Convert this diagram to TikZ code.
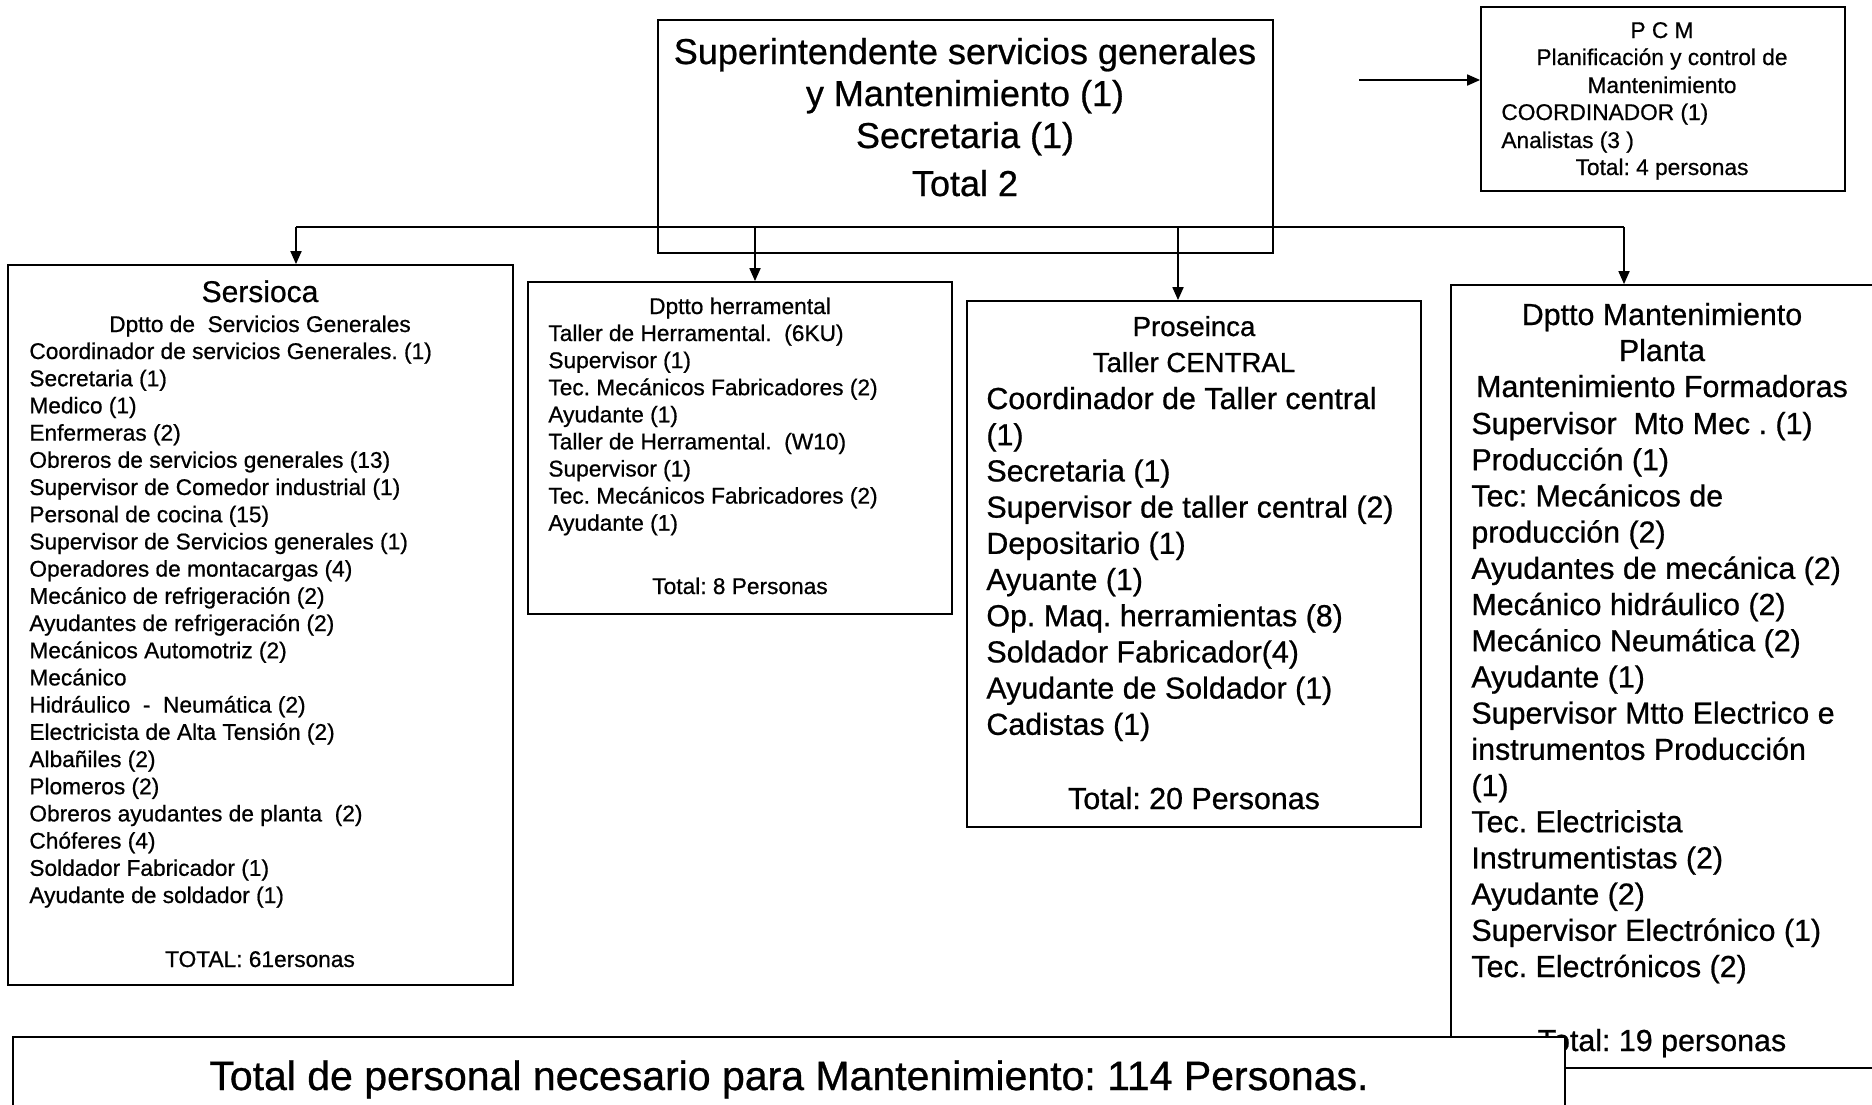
\documentclass[tikz,border=0pt]{standalone}
\usepackage{fontspec}
\setmainfont{Liberation Sans}[FakeBold=0.7]
\usetikzlibrary{arrows.meta,fit}

% type sizes (1 unit of the picture = 0.5pt)
\newcommand\fsTop{\fontsize{18pt}{21pt}\selectfont}
\newcommand\fsSm{\fontsize{11.35pt}{13.6pt}\selectfont}
\newcommand\fsMed{\fontsize{15.2pt}{18.1pt}\selectfont}
\newcommand\fsHead{\fontsize{15pt}{18pt}\selectfont}
\newcommand\fsPro{\fontsize{13.8pt}{18pt}\selectfont}
\newcommand\fsBig{\fontsize{20.5pt}{24pt}\selectfont}

\tikzset{
  box/.style={draw, line width=0.9pt, inner sep=0pt},
  link/.style={line width=0.9pt},
  arr/.style={line width=0.9pt, -{Triangle[length=6.5pt,width=5.5pt]}},
  ln/.style={anchor=base west, inner sep=0pt},
  lc/.style={anchor=base, inner sep=0pt},
}

\begin{document}
\frenchspacing
\begin{tikzpicture}[x=0.5pt,y=-0.5pt]
\clip (0,0) rectangle (1872,1104);
\fill[white] (0,0) rectangle (1872,1104);

% ---------- head of the organisation ----------
\node[box, fit={(658,20) (1273,253)}] (sup) {};
\node[lc, font=\fsTop] (sup1) at (965,64)  {Superintendente servicios generales};
\node[lc, font=\fsTop] (sup2) at (965,106) {y Mantenimiento (1)};
\node[lc, font=\fsTop] (sup3) at (965,148) {Secretaria (1)};
\node[lc, font=\fsTop] (sup4) at (965,196) {Total 2};

% ---------- planning and control ----------
\node[box, fit={(1481,7) (1845,191)}] (pcm) {};
\node[lc, font=\fsSm] (pcm1) at (1662,38)  {P C M};
\node[lc, font=\fsSm] (pcm2) at (1662,65)  {Planificación y control de};
\node[lc, font=\fsSm] (pcm3) at (1662,93)  {Mantenimiento};
\node[ln, font=\fsSm] (pcm4) at (1501,120) {COORDINADOR (1)};
\node[ln, font=\fsSm] (pcm5) at (1501,148) {Analistas (3 )};
\node[lc, font=\fsSm] (pcm6) at (1662,175) {Total: 4 personas};

% ---------- Sersioca ----------
\node[box, fit={(8,265) (513,985)}] (sers) {};
\node[lc, font=\fsHead] (sersT) at (260,302) {Sersioca};
\node[lc, font=\fsSm] (sersD) at (260,332) {Dptto de\ \ Servicios Generales};
\foreach \t [count=\i] in {
  {Coordinador de servicios Generales. (1)},
  {Secretaria (1)},
  {Medico (1)},
  {Enfermeras (2)},
  {Obreros de servicios generales (13)},
  {Supervisor de Comedor industrial (1)},
  {Personal de cocina (15)},
  {Supervisor de Servicios generales (1)},
  {Operadores de montacargas (4)},
  {Mecánico de refrigeración (2)},
  {Ayudantes de refrigeración (2)},
  {Mecánicos Automotriz (2)},
  {Mecánico},
  {Hidráulico\ \ -\ \ Neumática (2)},
  {Electricista de Alta Tensión (2)},
  {Albañiles (2)},
  {Plomeros (2)},
  {Obreros ayudantes de planta\ \ (2)},
  {Chóferes (4)},
  {Soldador Fabricador (1)},
  {Ayudante de soldador (1)}}
  \node[ln, font=\fsSm] (sers\i) at (29,{359+27.2*(\i-1)}) {\t};
\node[lc, font=\fsSm] (sersTot) at (260,967) {TOTAL: 61ersonas};

% ---------- tool shop ----------
\node[box, fit={(528,282) (952,614)}] (herr) {};
\node[lc, font=\fsSm] (herrT) at (740,314) {Dptto herramental};
\foreach \t [count=\i] in {
  {Taller de Herramental.\ \ (6KU)},
  {Supervisor (1)},
  {Tec. Mecánicos Fabricadores (2)},
  {Ayudante (1)},
  {Taller de Herramental.\ \ (W10)},
  {Supervisor (1)},
  {Tec. Mecánicos Fabricadores (2)},
  {Ayudante (1)}}
  \node[ln, font=\fsSm] (herr\i) at (548,{341+27.1*(\i-1)}) {\t};
\node[lc, font=\fsSm] (herrTot) at (740,594) {Total: 8 Personas};

% ---------- central workshop ----------
\node[box, fit={(967,301) (1421,827)}] (pros) {};
\node[lc, font=\fsPro] (prosT1) at (1194,336) {Proseinca};
\node[lc, font=\fsPro] (prosT2) at (1194,372) {Taller CENTRAL};
\foreach \t [count=\i] in {
  {Coordinador de Taller central},
  {(1)},
  {Secretaria (1)},
  {Supervisor de taller central (2)},
  {Depositario (1)},
  {Ayuante (1)},
  {Op. Maq. herramientas (8)},
  {Soldador Fabricador(4)},
  {Ayudante de Soldador (1)},
  {Cadistas (1)}}
  \node[ln, font=\fsMed] (pros\i) at (986,{409+36.2*(\i-1)}) {\t};
\node[lc, font=\fsMed] (prosTot) at (1194,809) {Total: 20 Personas};

% ---------- plant maintenance ----------
\node[box, fit={(1451,285) (1900,1068)}] (mant) {};
\node[lc, font=\fsMed] (mantT1) at (1662,325) {Dptto Mantenimiento};
\node[lc, font=\fsMed] (mantT2) at (1662,361) {Planta};
\node[lc, font=\fsMed] (mantT3) at (1662,397) {Mantenimiento Formadoras};
\foreach \t [count=\i] in {
  {Supervisor\ \ Mto Mec . (1)},
  {Producción (1)},
  {Tec: Mecánicos de},
  {producción (2)},
  {Ayudantes de mecánica (2)},
  {Mecánico hidráulico (2)},
  {Mecánico Neumática (2)},
  {Ayudante (1)},
  {Supervisor Mtto Electrico e},
  {instrumentos Producción},
  {(1)},
  {Tec. Electricista},
  {Instrumentistas (2)},
  {Ayudante (2)},
  {Supervisor Electrónico (1)},
  {Tec. Electrónicos (2)}}
  \node[ln, font=\fsMed] (mant\i) at (1471,{434+36.2*(\i-1)}) {\t};
\node[lc, font=\fsMed] (mantTot) at (1662,1051) {Total: 19 personas};

% ---------- grand total (lies over the bottom of the plant box) ----------
\node[box, fill=white, fit={(13,1037) (1565,1130)}] (tot) {};
\node[lc, font=\fsBig] (totT) at (789,1090) {Total de personal necesario para Mantenimiento: 114 Personas.};

% ---------- connectors ----------
\coordinate (busL) at (296,227);
\coordinate (busH) at (755,227);
\coordinate (busP) at (1178,227);
\coordinate (busR) at (1624,227);
\draw[link] (busL) -- (busR);
\draw[arr] (busL) -- (busL |- sers.north);
\draw[arr] (busH) -- (busH |- herr.north);
\draw[arr] (busP) -- (busP |- pros.north);
\draw[arr] (busR) -- (busR |- mant.north);
\coordinate (pcmFrom) at (1359,80);
\draw[arr] (pcmFrom) -- (pcmFrom -| pcm.west);
\end{tikzpicture}
\end{document}
